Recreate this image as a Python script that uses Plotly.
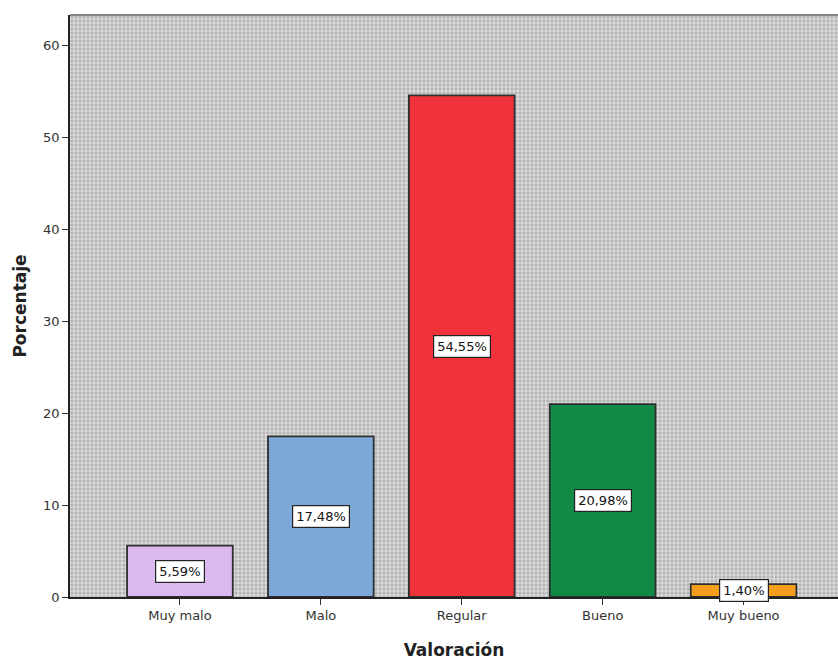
import plotly.graph_objects as go

categories = ["Muy malo", "Malo", "Regular", "Bueno", "Muy bueno"]
percentages = [5.59, 17.48, 54.55, 20.98, 1.40]
bar_colors = ["#dcb8f0", "#7ba8d6", "#f0323b", "#118a46", "#f59d1d"]
y_ticks = [0, 10, 20, 30, 40, 50, 60]

x_range = [-0.78, 4.67]
y_range = [0, 63.3]
positions = list(range(len(categories)))
FONT = "DejaVu Sans, Verdana, sans-serif"

fig = go.Figure()

# dotted grey backdrop filling the whole plotting area
fig.add_trace(go.Bar(
    x=[(x_range[0] + x_range[1]) / 2], y=[y_range[1]], width=[x_range[1] - x_range[0]],
    marker=dict(color="#dcdcdc", line=dict(width=0),
                pattern=dict(shape=".", fgcolor="#8a8a8a", bgcolor="#e0e0e0",
                             size=4, solidity=0.55)),
    hoverinfo="skip", showlegend=False,
))

fig.add_trace(go.Bar(
    x=positions, y=percentages, width=0.75,
    marker=dict(color=bar_colors, line=dict(color="#2e2e2e", width=1.8)),
    showlegend=False,
))

for pos, v in zip(positions, percentages):
    fig.add_annotation(
        x=pos, y=v / 2, text=f"{v:.2f}%".replace(".", ","),
        showarrow=False, bgcolor="white", bordercolor="#222222", borderwidth=1.2,
        borderpad=3, font=dict(family=FONT, size=13, color="#111111"),
    )

fig.update_layout(
    width=838, height=661,
    margin=dict(l=70, r=0, t=15, b=64),
    paper_bgcolor="white", plot_bgcolor="#dcdcdc",
    barmode="overlay",
    font=dict(family=FONT, size=13, color="#333333"),
    xaxis=dict(
        range=x_range, tickvals=positions, ticktext=categories, showgrid=False,
        zeroline=False, showline=True, linecolor="#222222", linewidth=1.5,
        ticks="outside", ticklen=6, tickcolor="#333333",
        tickfont=dict(family=FONT, size=13, color="#333333"),
        title=dict(text="<b>Valoración</b>", font=dict(family=FONT, size=17, color="#222222"), standoff=22),
    ),
    yaxis=dict(
        range=y_range, tickvals=y_ticks, showgrid=False, zeroline=False,
        showline=True, linecolor="#222222", linewidth=1.5,
        ticks="outside", ticklen=6, tickcolor="#333333",
        tickfont=dict(family=FONT, size=13, color="#333333"),
        title=dict(text="<b>Porcentaje</b>", font=dict(family=FONT, size=17, color="#222222"), standoff=12),
    ),
)

# grey top border of the plotting area
fig.add_shape(type="line", xref="paper", yref="paper", x0=0, x1=1, y0=1, y1=1,
              line=dict(color="#888888", width=2))

fig.write_html("out.html")
